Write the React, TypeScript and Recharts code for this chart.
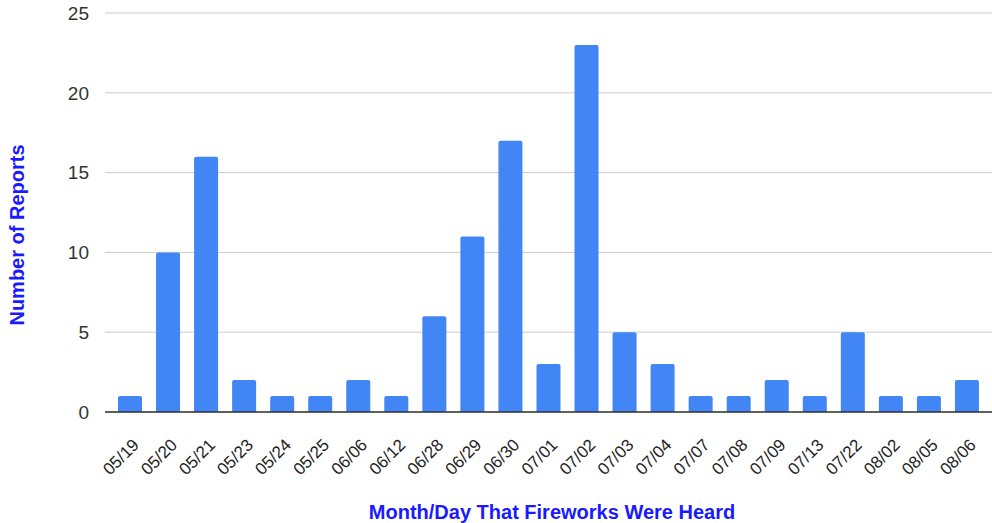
import React from "react";
import { BarChart, Bar, XAxis, YAxis, CartesianGrid } from "recharts";

// dates when fireworks were reported
const dates = [
  "05/19", "05/20", "05/21", "05/23", "05/24", "05/25", "06/06", "06/12",
  "06/28", "06/29", "06/30", "07/01", "07/02", "07/03", "07/04", "07/07",
  "07/08", "07/09", "07/13", "07/22", "08/02", "08/05", "08/06",
];
const reports = [1, 10, 16, 2, 1, 1, 2, 1, 6, 11, 17, 3, 23, 5, 3, 1, 1, 2, 1, 5, 1, 1, 2];
const yTicks = [0, 5, 10, 15, 20, 25];

const data = dates.map((d, i) => ({ date: d, reports: reports[i] }));

const FONT = "Arial, 'Liberation Sans', sans-serif";

const DateTick = (props: any) => {
  const { x, y, payload } = props;
  return (
    <g transform={`translate(${x + 10},${y + 26}) rotate(-45)`}>
      <text x={0} y={0} textAnchor="end" fontSize={17} fill="#222" fontFamily={FONT}>
        {payload.value}
      </text>
    </g>
  );
};

const App: React.FC = () => {
  return (
    <div style={{ position: "absolute", left: 0, top: 0, width: 992, height: 523, background: "#fff" }}>
      <BarChart
        width={992}
        height={523}
        data={data}
        margin={{ top: 13, right: 0, left: 0, bottom: 0 }}
        barSize={24}
      >
        <CartesianGrid vertical={false} stroke="#cccccc" />
        <XAxis
          dataKey="date"
          interval={0}
          height={111}
          tickLine={false}
          axisLine={{ stroke: "#333", strokeWidth: 1.5 }}
          padding={{ left: 6, right: 6 }}
          tick={<DateTick />}
          label={(p: any) => (
            <text
              x={552}
              y={519}
              textAnchor="middle"
              fontSize={20}
              fontWeight="bold"
              fill="#1a1aff"
              fontFamily={FONT}
            >
              Month/Day That Fireworks Were Heard
            </text>
          )}
        />
        <YAxis
          width={105}
          domain={[0, 25]}
          ticks={yTicks}
          tickLine={false}
          axisLine={false}
          tickMargin={10}
          tick={{ fontSize: 19, fill: "#333", fontFamily: FONT }}
          label={(p: any) => (
            <text
              x={24}
              y={235}
              transform="rotate(-90,24,235)"
              textAnchor="middle"
              fontSize={20}
              fontWeight="bold"
              fill="#1a1aff"
              fontFamily={FONT}
            >
              Number of Reports
            </text>
          )}
        />
        <Bar dataKey="reports" fill="#4285F4" radius={[2, 2, 0, 0]} isAnimationActive={false} />
      </BarChart>
    </div>
  );
};

export default App;
